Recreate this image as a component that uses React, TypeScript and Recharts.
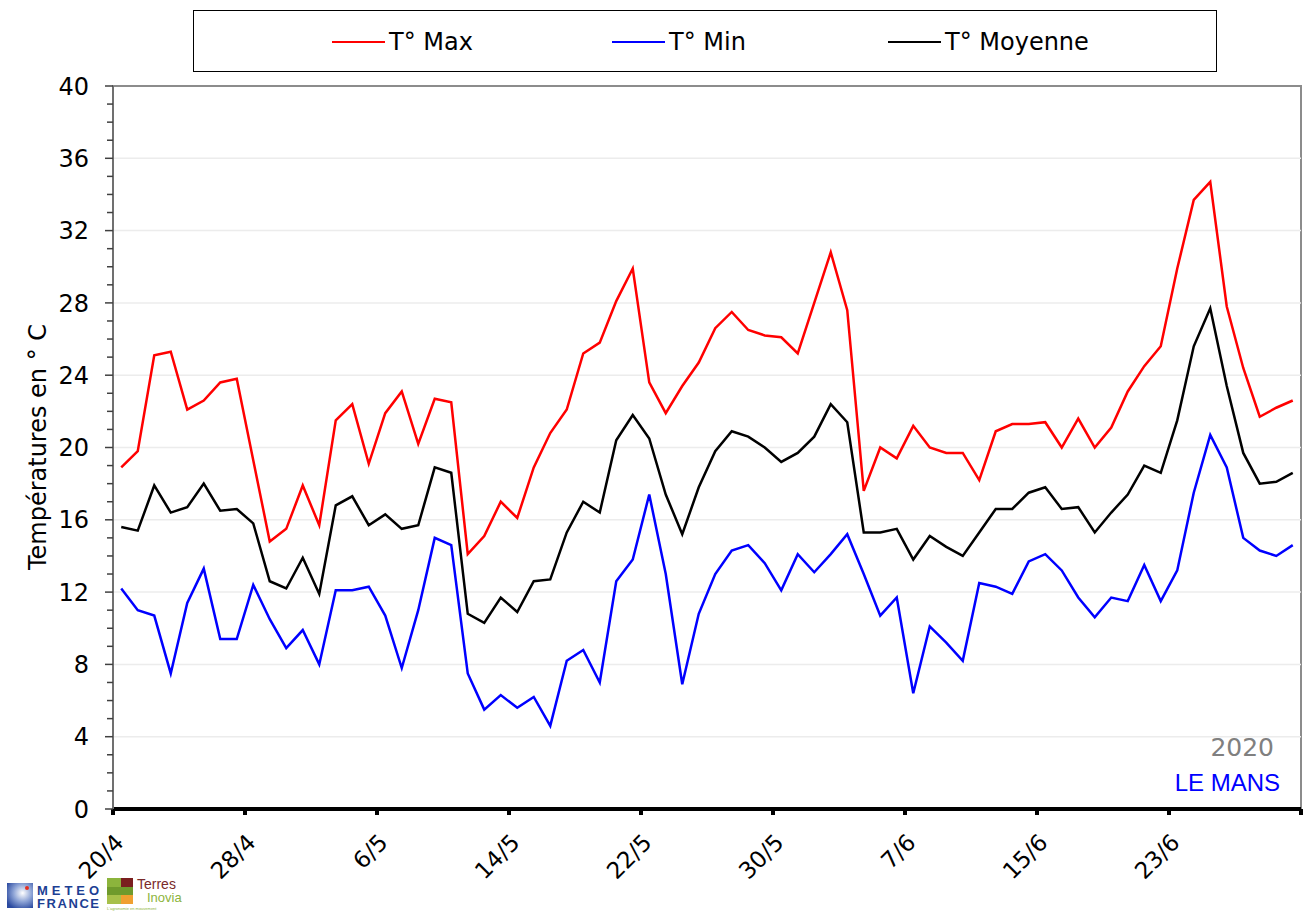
import React from 'react';
import { LineChart, Line, XAxis, YAxis, ReferenceLine, ReferenceArea } from 'recharts';

// Daily temperatures, Le Mans, 20/4 -> 30/6 2020
const tMax = [18.9, 19.8, 25.1, 25.3, 22.1, 22.6, 23.6, 23.8, 19.3, 14.8,
  15.5, 17.9, 15.7, 21.5, 22.4, 19.1, 21.9, 23.1, 20.2, 22.7,
  22.5, 14.1, 15.1, 17.0, 16.1, 18.9, 20.8, 22.1, 25.2, 25.8,
  28.1, 29.9, 23.6, 21.9, 23.4, 24.7, 26.6, 27.5, 26.5, 26.2,
  26.1, 25.2, 28.0, 30.8, 27.6, 17.6, 20.0, 19.4, 21.2, 20.0,
  19.7, 19.7, 18.2, 20.9, 21.3, 21.3, 21.4, 20.0, 21.6, 20.0,
  21.1, 23.1, 24.5, 25.6, 29.9, 33.7, 34.7, 27.8, 24.4, 21.7,
  22.2, 22.6];

const tMin = [12.2, 11.0, 10.7, 7.5, 11.4, 13.3, 9.4, 9.4, 12.4, 10.5,
  8.9, 9.9, 8.0, 12.1, 12.1, 12.3, 10.7, 7.8, 11.0, 15.0,
  14.6, 7.5, 5.5, 6.3, 5.6, 6.2, 4.6, 8.2, 8.8, 7.0,
  12.6, 13.8, 17.4, 13.0, 6.9, 10.8, 13.0, 14.3, 14.6, 13.6,
  12.1, 14.1, 13.1, 14.1, 15.2, 13.0, 10.7, 11.7, 6.4, 10.1,
  9.2, 8.2, 12.5, 12.3, 11.9, 13.7, 14.1, 13.2, 11.7, 10.6,
  11.7, 11.5, 13.5, 11.5, 13.2, 17.5, 20.7, 18.9, 15.0, 14.3,
  14.0, 14.6];

const tMoy = [15.6, 15.4, 17.9, 16.4, 16.7, 18.0, 16.5, 16.6, 15.8, 12.6,
  12.2, 13.9, 11.9, 16.8, 17.3, 15.7, 16.3, 15.5, 15.7, 18.9,
  18.6, 10.8, 10.3, 11.7, 10.9, 12.6, 12.7, 15.3, 17.0, 16.4,
  20.4, 21.8, 20.5, 17.4, 15.2, 17.8, 19.8, 20.9, 20.6, 20.0,
  19.2, 19.7, 20.6, 22.4, 21.4, 15.3, 15.3, 15.5, 13.8, 15.1,
  14.5, 14.0, 15.3, 16.6, 16.6, 17.5, 17.8, 16.6, 16.7, 15.3,
  16.4, 17.4, 19.0, 18.6, 21.5, 25.6, 27.7, 23.4, 19.7, 18.0,
  18.1, 18.6];

const monthLengths: Record<number, number> = { 4: 30, 5: 31, 6: 30 };
const dates: string[] = [];
{
  let d = 20;
  let m = 4;
  for (let i = 0; i < tMax.length; i++) {
    dates.push(`${d}/${m}`);
    d++;
    if (d > monthLengths[m]) { d = 1; m++; }
  }
}

const xTickIndices = [0, 8, 16, 24, 32, 40, 48, 56, 64, 72];
const xTickLabels = ['20/4', '28/4', '6/5', '14/5', '22/5', '30/5', '7/6', '15/6', '23/6', ''];
const yTicks = Array.from({ length: 41 }, (_, i) => i);
const yGrid = [4, 8, 12, 16, 20, 24, 28, 32, 36];

const seriesNames = { max: 'T° Max', min: 'T° Min', moy: 'T° Moyenne' };
const colors = { max: '#ff0000', min: '#0000ff', moy: '#000000' };

const data = dates.map((date, i) => ({
  x: i + 0.5,
  date,
  max: tMax[i],
  min: tMin[i],
  moy: tMoy[i],
}));

const FONT = '"DejaVu Sans", Verdana, sans-serif';

const YTick = (props: any) => {
  const { x, y, payload } = props;
  const v = payload.value;
  const major = v % 4 === 0;
  return (
    <g>
      <line x1={x - (major ? 8 : 6)} x2={x} y1={y} y2={y} stroke="#404040" strokeWidth={1.5} />
      {major && (
        <text x={x - 24} y={y} dy="0.36em" textAnchor="end" fontSize={24} fontFamily={FONT} fill="#000">
          {v}
        </text>
      )}
    </g>
  );
};

const XTick = (props: any) => {
  const { x, payload } = props;
  const idx = xTickIndices.indexOf(payload.value);
  const label = idx >= 0 ? xTickLabels[idx] : '';
  if (!label) return <g />;
  const ax = x + 12;
  const ay = 844;
  return (
    <text
      x={ax}
      y={ay}
      textAnchor="end"
      fontSize={23}
      fontFamily={FONT}
      fill="#000"
      transform={`rotate(-45 ${ax} ${ay})`}
    >
      {label}
    </text>
  );
};

const legendItems: { key: 'max' | 'min' | 'moy'; left: number }[] = [
  { key: 'max', left: 332 },
  { key: 'min', left: 612 },
  { key: 'moy', left: 888 },
];

export default function App() {
  return (
    <div style={{ position: 'absolute', left: 0, top: 0, width: 1304, height: 911, background: '#fff', overflow: 'hidden' }}>
      <LineChart
        width={1304}
        height={911}
        data={data}
        margin={{ top: 86, right: 3, bottom: 72, left: 53 }}
      >
        {yGrid.map((v) => (
          <ReferenceLine key={v} y={v} stroke="#ececec" strokeWidth={1.5} />
        ))}
        <ReferenceArea x1={0} x2={72} y1={0} y2={40} fill="none" stroke="#8c8c8c" strokeWidth={2} />
        <XAxis
          type="number"
          dataKey="x"
          domain={[0, 72]}
          ticks={xTickIndices}
          interval={0}
          height={30}
          axisLine={{ stroke: '#000', strokeWidth: 4 }}
          tickLine={{ stroke: '#000', strokeWidth: 4 }}
          tickSize={6}
          tick={<XTick />}
          allowDataOverflow
        />
        <YAxis
          type="number"
          domain={[0, 40]}
          ticks={yTicks}
          interval={0}
          width={60}
          tickSize={0}
          tickMargin={0}
          tickLine={false}
          axisLine={{ stroke: '#707070', strokeWidth: 2 }}
          tick={<YTick />}
          allowDataOverflow
        />
        <Line dataKey="max" name={seriesNames.max} stroke={colors.max} strokeWidth={2.5} dot={false} isAnimationActive={false} />
        <Line dataKey="min" name={seriesNames.min} stroke={colors.min} strokeWidth={2.5} dot={false} isAnimationActive={false} />
        <Line dataKey="moy" name={seriesNames.moy} stroke={colors.moy} strokeWidth={2.5} dot={false} isAnimationActive={false} />
      </LineChart>

      {/* Legend box */}
      <div style={{ position: 'absolute', left: 193, top: 10, width: 1024, height: 62, border: '1px solid #000', boxSizing: 'border-box' }} />
      {legendItems.map((it) => (
        <div key={it.key} style={{ position: 'absolute', left: it.left, top: 27, height: 30, display: 'flex', alignItems: 'center', whiteSpace: 'nowrap' }}>
          <div style={{ width: 53, height: 2, background: colors[it.key], marginRight: 4 }} />
          <span style={{ fontFamily: FONT, fontSize: 24, color: '#000', lineHeight: '30px' }}>{seriesNames[it.key]}</span>
        </div>
      ))}

      {/* Y axis title */}
      <div
        style={{
          position: 'absolute',
          left: 38,
          top: 447,
          transform: 'translate(-50%, -50%) rotate(-90deg)',
          fontFamily: FONT,
          fontSize: 24,
          whiteSpace: 'nowrap',
          color: '#000',
          lineHeight: '28px',
        }}
      >
        Températures en ° C
      </div>

      {/* Annotations */}
      <div style={{ position: 'absolute', right: 1304 - 1274, top: 733, fontFamily: FONT, fontSize: 25, color: '#808080', lineHeight: '30px' }}>2020</div>
      <div style={{ position: 'absolute', right: 1304 - 1280, top: 768, fontFamily: '"Liberation Sans", Arial, sans-serif', fontSize: 24, color: '#0000ff', lineHeight: '30px' }}>LE MANS</div>

      {/* Logos (approximation) */}
      <svg style={{ position: 'absolute', left: 0, top: 874 }} width={200} height={37}>
        <defs>
          <radialGradient id="mf" cx="0.6" cy="0.4" r="0.7">
            <stop offset="0" stopColor="#ffffff" />
            <stop offset="0.5" stopColor="#8ea4d6" />
            <stop offset="1" stopColor="#2b4aa0" />
          </radialGradient>
        </defs>
        <rect x={7} y={9} width={26} height={25} fill="url(#mf)" />
        <circle cx={27} cy={14} r={2} fill="#e53020" />
        <text x={37} y={21} fontFamily='"Liberation Sans", Arial, sans-serif' fontWeight="bold" fontSize={13} fill="#1c3f94" textLength={62}>METEO</text>
        <text x={37} y={34} fontFamily='"Liberation Sans", Arial, sans-serif' fontWeight="bold" fontSize={13} fill="#1c3f94" textLength={62}>FRANCE</text>
        <rect x={107} y={4} width={14} height={9} fill="#8cb43c" />
        <rect x={121} y={4} width={12} height={9} fill="#7a1f1f" />
        <rect x={107} y={13} width={26} height={8} fill="#6f9a2c" />
        <rect x={107} y={21} width={14} height={9} fill="#a7c04a" />
        <rect x={121} y={21} width={12} height={9} fill="#f0a030" />
        <text x={137} y={15} fontFamily='"Liberation Sans", Arial, sans-serif' fontSize={14} fill="#7a2a2a">Terres</text>
        <text x={147} y={28} fontFamily='"Liberation Sans", Arial, sans-serif' fontSize={13} fill="#8cb43c">Inovia</text>
        <text x={107} y={36} fontFamily='"Liberation Sans", Arial, sans-serif' fontSize={4} fill="#8cb43c">L'agronomie en mouvement</text>
      </svg>
    </div>
  );
}
